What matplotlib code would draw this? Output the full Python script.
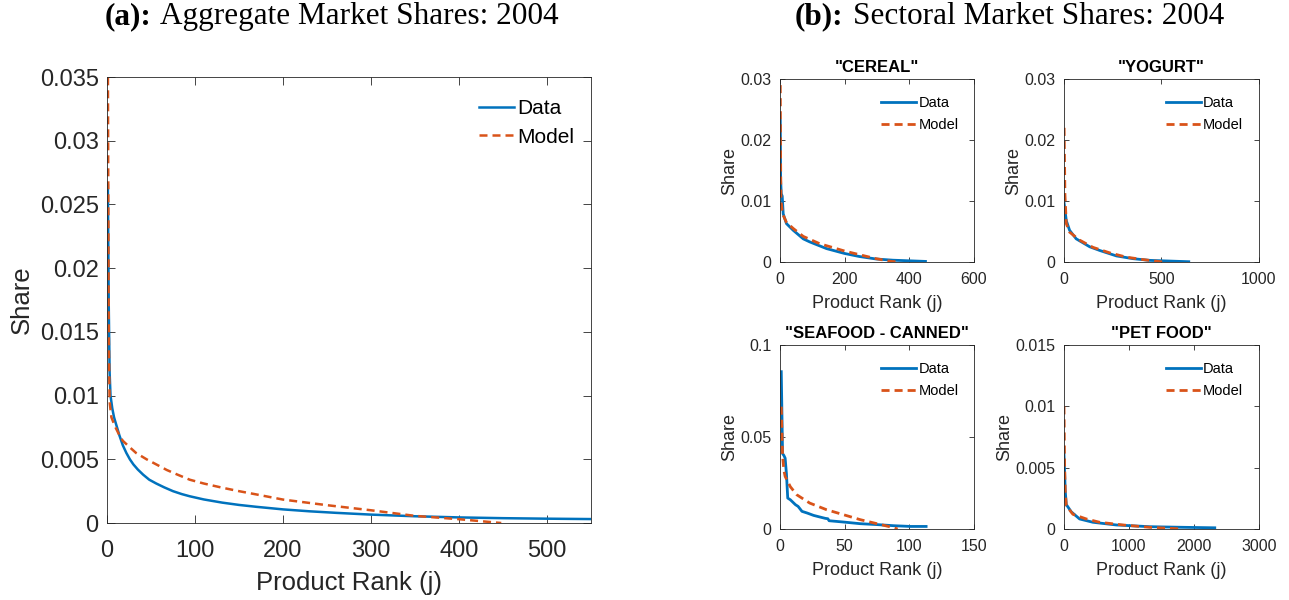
import matplotlib
matplotlib.use("Agg")
import matplotlib.pyplot as plt
from matplotlib.ticker import FuncFormatter

# ---- (a) aggregate market shares, 2004 ----
agg_data_rank = [1, 2, 3, 4, 6, 8, 11, 14, 18, 22, 26, 30, 35, 41, 48, 56, 65, 75,
                 85, 94, 110, 131, 150, 170, 200, 230, 260, 300, 350, 400, 450,
                 500, 550]
agg_data_share = [0.0265, 0.0170, 0.0118, 0.0100, 0.0090, 0.0083, 0.0076, 0.0069,
                  0.0061, 0.0055, 0.0050, 0.0046, 0.0042, 0.0038, 0.0034, 0.0031,
                  0.0028, 0.0025, 0.00227, 0.0021, 0.00185, 0.0016, 0.00142,
                  0.00127, 0.00107, 0.00092, 0.0008, 0.00066, 0.00053, 0.00044,
                  0.00038, 0.00034, 0.00031]
agg_model_rank = [1, 2, 3, 5, 9, 14, 18, 25, 33, 45, 56, 68, 80, 94, 110, 131, 150,
                  170, 200, 250, 300, 350, 400, 448]
agg_model_share = [0.0360, 0.0150, 0.0095, 0.0083, 0.0076, 0.0069, 0.00645,
                   0.0060, 0.0055, 0.0050, 0.0046, 0.00416, 0.0038, 0.0034, 0.0031,
                   0.00277, 0.0025, 0.00224, 0.00184, 0.0014, 0.0010, 0.00056,
                   0.0003, 0.0]

# ---- (b) sectoral market shares, 2004 ----
cereal_data_rank = [1, 2, 4, 7, 10, 20, 41, 72, 92, 144, 200, 246, 297, 349, 450]
cereal_data_share = [0.0232, 0.0135, 0.0112, 0.0108, 0.0079, 0.0063, 0.0052, 0.0038,
                     0.0033, 0.0022, 0.0014, 0.0009, 0.0005, 0.0003, 0.0001]
cereal_model_rank = [1, 2, 3, 8, 20, 41, 72, 123, 200, 246, 297, 344, 370]
cereal_model_share = [0.0290, 0.0166, 0.0101, 0.0079, 0.0065, 0.0055, 0.0042, 0.0030,
                      0.0018, 0.0012, 0.00055, 0.0001, 0.0]

yogurt_data_rank = [1, 12, 29, 63, 132, 183, 269, 354, 440, 640]
yogurt_data_share = [0.0096, 0.0068, 0.0052, 0.0038, 0.0025, 0.0019, 0.0010, 0.00055,
                     0.00027, 0.00005]
yogurt_model_rank = [1, 5, 12, 29, 80, 149, 235, 320, 406, 508]
yogurt_model_share = [0.0220, 0.0112, 0.0063, 0.0049, 0.0036, 0.0024, 0.0015, 0.0008,
                      0.0004, 0.0]

seafood_data_rank = [1, 2, 3, 4, 5, 6, 8, 12, 14, 17, 21, 26, 31, 35, 37, 38, 49, 62,
                     75, 88, 101, 113]
seafood_data_share = [0.0855, 0.0410, 0.0400, 0.0385, 0.0300, 0.0168, 0.0159, 0.0132,
                      0.0123, 0.0096, 0.0087, 0.0074, 0.0065, 0.0058, 0.0056, 0.0045,
                      0.0038, 0.0029, 0.0024, 0.0018, 0.0014, 0.0014]
seafood_model_rank = [1, 2, 3, 4, 8, 13, 23, 36, 49, 62, 75, 88, 91]
seafood_model_share = [0.0665, 0.0400, 0.0320, 0.0286, 0.0230, 0.0186, 0.0141, 0.0105,
                       0.0078, 0.0051, 0.0029, 0.0007, 0.0]

petfood_data_rank = [1, 20, 36, 113, 241, 446, 805, 1318, 1830, 2320]
petfood_data_share = [0.0061, 0.0031, 0.0020, 0.0014, 0.00082, 0.00055, 0.00033,
                      0.00019, 0.00014, 0.0001]
petfood_model_rank = [1, 10, 20, 36, 138, 344, 549, 908, 1318, 1830]
petfood_model_share = [0.0100, 0.0053, 0.0031, 0.0019, 0.0012, 0.00082, 0.00055,
                       0.00033, 0.00014, 0.0]

BLUE = "#0072BD"
ORANGE = "#D95319"
GREY = "#262626"

plt.rcParams["font.family"] = ["Liberation Sans", "DejaVu Sans"]

fig = plt.figure(figsize=(12.89, 6), dpi=100)


def draw_panel(ax, d_rank, d_share, m_rank, m_share, xticks, yticks, big):
    lw = 1.8 if big else 2.0
    dash = (3.2, 2.0) if big else (2.9, 1.8)
    ax.plot(d_rank, d_share, color=BLUE, lw=lw, label="Data")
    ax.plot(m_rank, m_share, color=ORANGE, lw=lw, ls="--", dashes=dash, label="Model")
    ax.set_xlim(xticks[0], xticks[-1])
    ax.set_ylim(yticks[0], yticks[-1])
    ax.set_xticks(xticks)
    ax.set_yticks(yticks)
    ax.yaxis.set_major_formatter(FuncFormatter(lambda v, p: "%g" % v))
    tick_size = 17 if big else 11.5
    label_size = 18.5 if big else 13
    ax.tick_params(direction="in", top=True, right=True, length=6 if big else 3.5,
                   width=0.6, color=GREY, labelcolor=GREY, labelsize=tick_size)
    ax.tick_params(axis="x", pad=12 if big else 7)
    ax.tick_params(axis="y", pad=6 if big else 6)
    for s in ax.spines.values():
        s.set_color(GREY)
        s.set_linewidth(0.6)
    ax.set_xlabel("Product Rank (j)", fontsize=label_size, color=GREY,
                  labelpad=7 if big else 6)
    ax.set_ylabel("Share", fontsize=label_size, color=GREY, labelpad=4 if big else 2)
    if big:
        ax.legend(loc="upper right", bbox_to_anchor=(0.965, 0.95), fontsize=15,
                  frameon=False, handlelength=1.7, handletextpad=0.15,
                  labelspacing=0.45, borderaxespad=0, borderpad=0)
    else:
        ax.legend(loc="upper right", bbox_to_anchor=(0.92, 0.905), fontsize=10.5,
                  frameon=False, handlelength=2.4, handletextpad=0.15,
                  labelspacing=0.5, borderaxespad=0, borderpad=0)


ax_a = fig.add_axes([0.0830, 0.1283, 0.3755, 0.7433])
draw_panel(ax_a, agg_data_rank, agg_data_share, agg_model_rank, agg_model_share,
           [0, 100, 200, 300, 400, 500, 550],
           [0, 0.005, 0.01, 0.015, 0.02, 0.025, 0.03, 0.035], True)
ax_a.set_xticks([0, 100, 200, 300, 400, 500])

small = [
    ("\"CEREAL\"", [0.6051, 0.5633, 0.1505, 0.3050],
     cereal_data_rank, cereal_data_share, cereal_model_rank, cereal_model_share,
     [0, 200, 400, 600], [0, 0.01, 0.02, 0.03]),
    ("\"YOGURT\"", [0.8254, 0.5633, 0.1513, 0.3050],
     yogurt_data_rank, yogurt_data_share, yogurt_model_rank, yogurt_model_share,
     [0, 500, 1000], [0, 0.01, 0.02, 0.03]),
    ("\"SEAFOOD - CANNED\"", [0.6051, 0.1183, 0.1505, 0.3067],
     seafood_data_rank, seafood_data_share, seafood_model_rank, seafood_model_share,
     [0, 50, 100, 150], [0, 0.05, 0.1]),
    ("\"PET FOOD\"", [0.8254, 0.1183, 0.1513, 0.3067],
     petfood_data_rank, petfood_data_share, petfood_model_rank, petfood_model_share,
     [0, 1000, 2000, 3000], [0, 0.005, 0.01, 0.015]),
]
for title, rect, dr, ds, mr, ms, xt, yt in small:
    ax = fig.add_axes(rect)
    draw_panel(ax, dr, ds, mr, ms, xt, yt, False)
    ax.set_title(title, fontsize=12, fontweight="bold", pad=5)


def panel_title(xc, y, bold, rest, size=20):
    serif = ["Liberation Serif", "DejaVu Serif"]
    t1 = fig.text(0, y, bold, fontsize=size, fontweight="bold", family=serif,
                  va="center")
    t2 = fig.text(0, y, rest, fontsize=size, family=serif, va="center")
    r = fig.canvas.get_renderer()
    w1 = t1.get_window_extent(r).width / fig.bbox.width
    w2 = t2.get_window_extent(r).width / fig.bbox.width
    gap = 0.3 * size / 72 * fig.dpi / fig.bbox.width
    x0 = xc - (w1 + gap + w2) / 2
    t1.set_x(x0)
    t2.set_x(x0 + w1 + gap)


panel_title(0.2572, 0.972, "(a):", "Aggregate Market Shares: 2004", 22.5)
panel_title(0.7832, 0.972, "(b):", "Sectoral Market Shares: 2004", 22.5)

fig.savefig("out.png", dpi=100)
